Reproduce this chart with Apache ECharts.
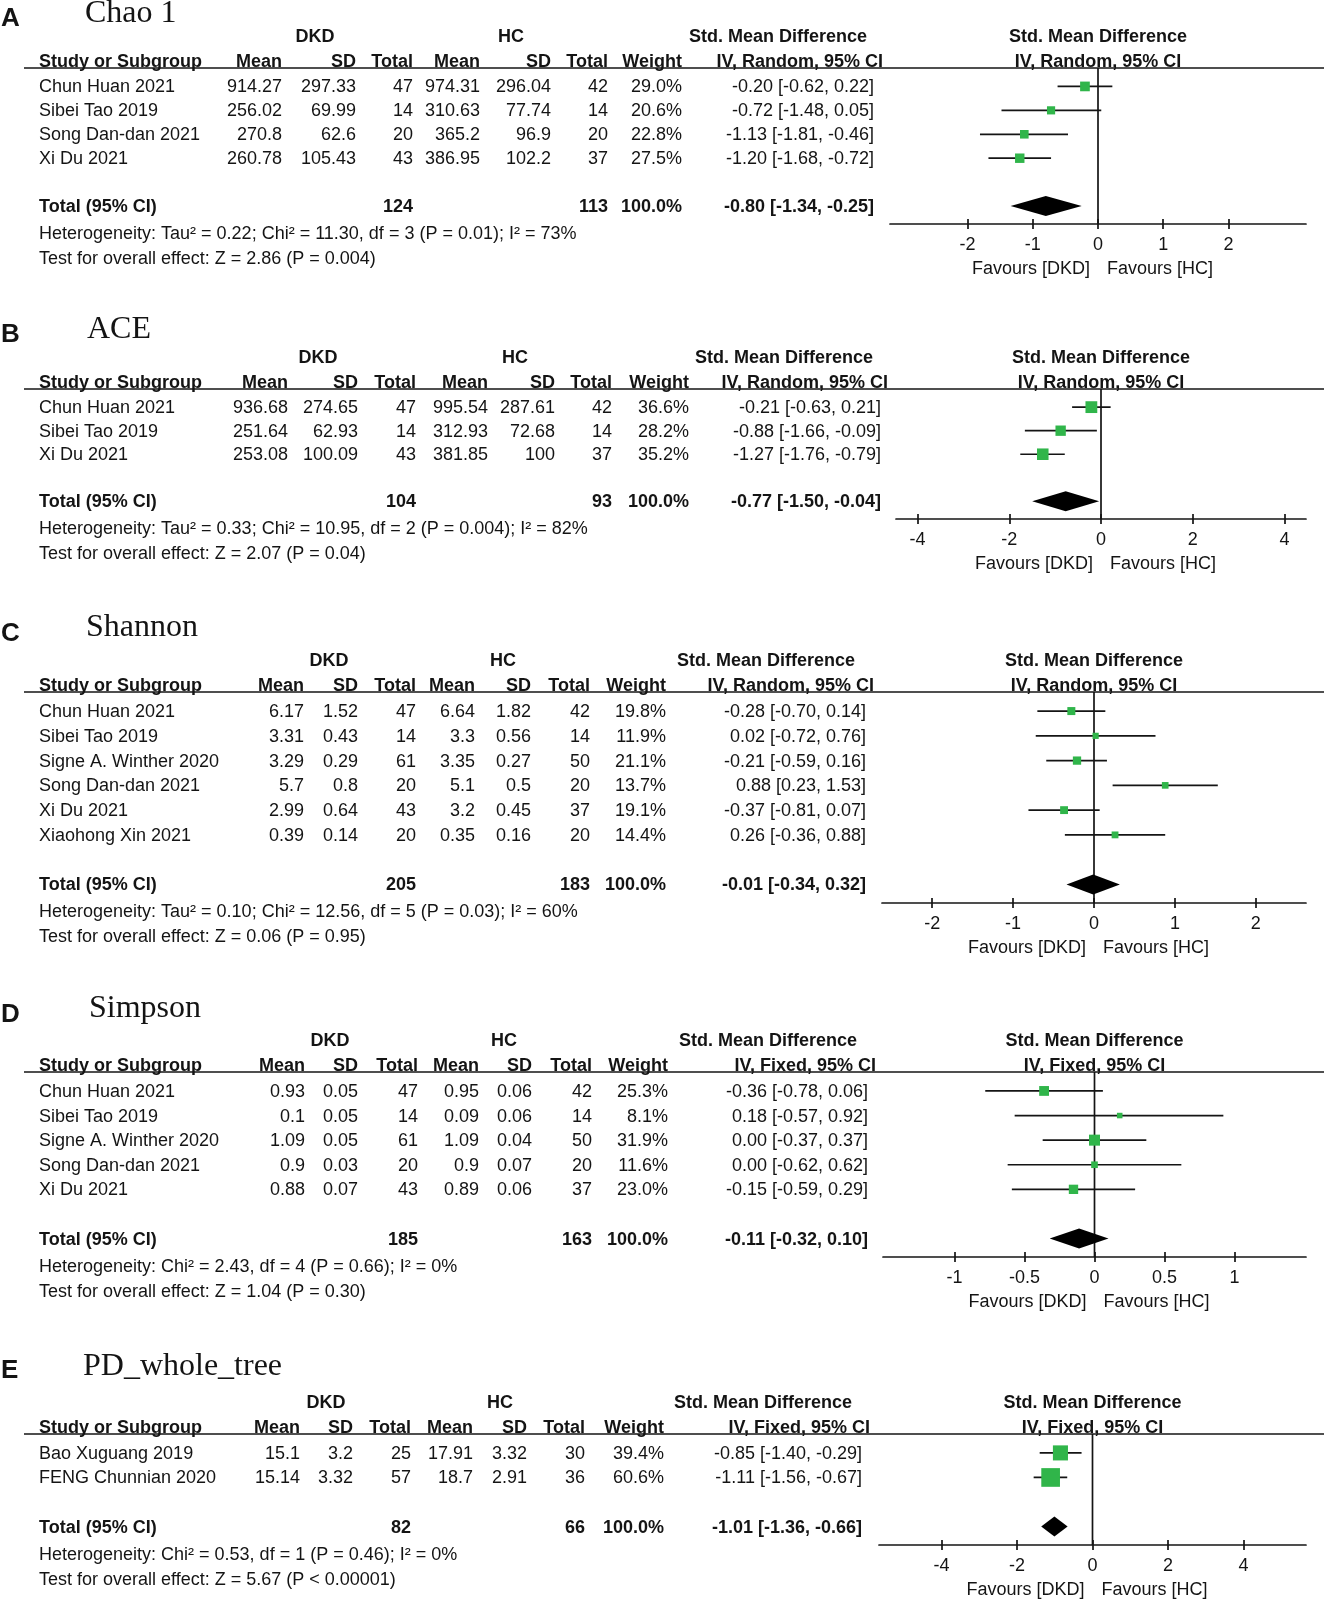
<!DOCTYPE html>
<html>
<head>
<meta charset="utf-8">
<script src="https://cdn.jsdelivr.net/npm/echarts@6/dist/echarts.min.js"></script>
<style>
html,body{margin:0;padding:0;background:#fff;}
#chart{width:1324px;height:1600px;}
</style>
</head>
<body>
<div id="chart"></div>
<script>
// ---------- DATA ----------
// Panel A – Chao 1
const chaoStudy = ['Chun Huan 2021','Sibei Tao 2019','Song Dan-dan 2021','Xi Du 2021'];
const chaoDkdMean = [914.27, 256.02, 270.8, 260.78];
const chaoDkdSd = [297.33, 69.99, 62.6, 105.43];
const chaoDkdN = [47, 14, 20, 43];
const chaoHcMean = [974.31, 310.63, 365.2, 386.95];
const chaoHcSd = [296.04, 77.74, 96.9, 102.2];
const chaoHcN = [42, 14, 20, 37];
const chaoWeight = [29.0, 20.6, 22.8, 27.5];
const chaoSmd = [-0.20, -0.72, -1.13, -1.20];
const chaoLo = [-0.62, -1.48, -1.81, -1.68];
const chaoHi = [0.22, 0.05, -0.46, -0.72];
const chaoTotal = [124, 113, 100.0, -0.80, -1.34, -0.25];
const chaoMethod = 'IV, Random, 95% CI';
const chaoHet = 'Heterogeneity: Tau² = 0.22; Chi² = 11.30, df = 3 (P = 0.01); I² = 73%';
const chaoTest = 'Test for overall effect: Z = 2.86 (P = 0.004)';
const chaoTicks = [-2, -1, 0, 1, 2];

// Panel B – ACE
const aceStudy = ['Chun Huan 2021','Sibei Tao 2019','Xi Du 2021'];
const aceDkdMean = [936.68, 251.64, 253.08];
const aceDkdSd = [274.65, 62.93, 100.09];
const aceDkdN = [47, 14, 43];
const aceHcMean = [995.54, 312.93, 381.85];
const aceHcSd = [287.61, 72.68, 100];
const aceHcN = [42, 14, 37];
const aceWeight = [36.6, 28.2, 35.2];
const aceSmd = [-0.21, -0.88, -1.27];
const aceLo = [-0.63, -1.66, -1.76];
const aceHi = [0.21, -0.09, -0.79];
const aceTotal = [104, 93, 100.0, -0.77, -1.50, -0.04];
const aceMethod = 'IV, Random, 95% CI';
const aceHet = 'Heterogeneity: Tau² = 0.33; Chi² = 10.95, df = 2 (P = 0.004); I² = 82%';
const aceTest = 'Test for overall effect: Z = 2.07 (P = 0.04)';
const aceTicks = [-4, -2, 0, 2, 4];

// Panel C – Shannon
const shanStudy = ['Chun Huan 2021','Sibei Tao 2019','Signe A. Winther 2020','Song Dan-dan 2021','Xi Du 2021','Xiaohong Xin 2021'];
const shanDkdMean = [6.17, 3.31, 3.29, 5.7, 2.99, 0.39];
const shanDkdSd = [1.52, 0.43, 0.29, 0.8, 0.64, 0.14];
const shanDkdN = [47, 14, 61, 20, 43, 20];
const shanHcMean = [6.64, 3.3, 3.35, 5.1, 3.2, 0.35];
const shanHcSd = [1.82, 0.56, 0.27, 0.5, 0.45, 0.16];
const shanHcN = [42, 14, 50, 20, 37, 20];
const shanWeight = [19.8, 11.9, 21.1, 13.7, 19.1, 14.4];
const shanSmd = [-0.28, 0.02, -0.21, 0.88, -0.37, 0.26];
const shanLo = [-0.70, -0.72, -0.59, 0.23, -0.81, -0.36];
const shanHi = [0.14, 0.76, 0.16, 1.53, 0.07, 0.88];
const shanTotal = [205, 183, 100.0, -0.01, -0.34, 0.32];
const shanMethod = 'IV, Random, 95% CI';
const shanHet = 'Heterogeneity: Tau² = 0.10; Chi² = 12.56, df = 5 (P = 0.03); I² = 60%';
const shanTest = 'Test for overall effect: Z = 0.06 (P = 0.95)';
const shanTicks = [-2, -1, 0, 1, 2];

// Panel D – Simpson
const simpStudy = ['Chun Huan 2021','Sibei Tao 2019','Signe A. Winther 2020','Song Dan-dan 2021','Xi Du 2021'];
const simpDkdMean = [0.93, 0.1, 1.09, 0.9, 0.88];
const simpDkdSd = [0.05, 0.05, 0.05, 0.03, 0.07];
const simpDkdN = [47, 14, 61, 20, 43];
const simpHcMean = [0.95, 0.09, 1.09, 0.9, 0.89];
const simpHcSd = [0.06, 0.06, 0.04, 0.07, 0.06];
const simpHcN = [42, 14, 50, 20, 37];
const simpWeight = [25.3, 8.1, 31.9, 11.6, 23.0];
const simpSmd = [-0.36, 0.18, 0.00, 0.00, -0.15];
const simpLo = [-0.78, -0.57, -0.37, -0.62, -0.59];
const simpHi = [0.06, 0.92, 0.37, 0.62, 0.29];
const simpTotal = [185, 163, 100.0, -0.11, -0.32, 0.10];
const simpMethod = 'IV, Fixed, 95% CI';
const simpHet = 'Heterogeneity: Chi² = 2.43, df = 4 (P = 0.66); I² = 0%';
const simpTest = 'Test for overall effect: Z = 1.04 (P = 0.30)';
const simpTicks = [-1, -0.5, 0, 0.5, 1];

// Panel E – PD_whole_tree
const pdStudy = ['Bao Xuguang 2019','FENG Chunnian 2020'];
const pdDkdMean = [15.1, 15.14];
const pdDkdSd = [3.2, 3.32];
const pdDkdN = [25, 57];
const pdHcMean = [17.91, 18.7];
const pdHcSd = [3.32, 2.91];
const pdHcN = [30, 36];
const pdWeight = [39.4, 60.6];
const pdSmd = [-0.85, -1.11];
const pdLo = [-1.40, -1.56];
const pdHi = [-0.29, -0.67];
const pdTotal = [82, 66, 100.0, -1.01, -1.36, -0.66];
const pdMethod = 'IV, Fixed, 95% CI';
const pdHet = 'Heterogeneity: Chi² = 0.53, df = 1 (P = 0.46); I² = 0%';
const pdTest = 'Test for overall effect: Z = 5.67 (P < 0.00001)';
const pdTicks = [-4, -2, 0, 2, 4];

const panelLetters = ['A','B','C','D','E'];
const panelTitles = ['Chao 1','ACE','Shannon','Simpson','PD_whole_tree'];

// ---------- assemble ----------
const panels = [
  {study:chaoStudy, dm:chaoDkdMean, ds:chaoDkdSd, dn:chaoDkdN, hm:chaoHcMean, hs:chaoHcSd, hn:chaoHcN, w:chaoWeight, smd:chaoSmd, lo:chaoLo, hi:chaoHi, tot:chaoTotal, method:chaoMethod, het:chaoHet, test:chaoTest, ticks:chaoTicks},
  {study:aceStudy, dm:aceDkdMean, ds:aceDkdSd, dn:aceDkdN, hm:aceHcMean, hs:aceHcSd, hn:aceHcN, w:aceWeight, smd:aceSmd, lo:aceLo, hi:aceHi, tot:aceTotal, method:aceMethod, het:aceHet, test:aceTest, ticks:aceTicks},
  {study:shanStudy, dm:shanDkdMean, ds:shanDkdSd, dn:shanDkdN, hm:shanHcMean, hs:shanHcSd, hn:shanHcN, w:shanWeight, smd:shanSmd, lo:shanLo, hi:shanHi, tot:shanTotal, method:shanMethod, het:shanHet, test:shanTest, ticks:shanTicks},
  {study:simpStudy, dm:simpDkdMean, ds:simpDkdSd, dn:simpDkdN, hm:simpHcMean, hs:simpHcSd, hn:simpHcN, w:simpWeight, smd:simpSmd, lo:simpLo, hi:simpHi, tot:simpTotal, method:simpMethod, het:simpHet, test:simpTest, ticks:simpTicks},
  {study:pdStudy, dm:pdDkdMean, ds:pdDkdSd, dn:pdDkdN, hm:pdHcMean, hs:pdHcSd, hn:pdHcN, w:pdWeight, smd:pdSmd, lo:pdLo, hi:pdHi, tot:pdTotal, method:pdMethod, het:pdHet, test:pdTest, ticks:pdTicks}
];

// ---------- LAYOUT (pixels, styles) ----------
const layout = [
  {letterY:18,  titleX:85, titleY:13,  lineY:68,   axisY:224,  gridLeft:890, xr:3.19, cols:[282,356,413,480,551,608,682], ciX:874, ciHeadX:883, dkdX:315, hcX:511, smdX:778, boxK:1.8},
  {letterY:334, titleX:87, titleY:329, lineY:389,  axisY:519,  gridLeft:896, xr:4.47, cols:[288,358,416,488,555,612,689], ciX:881, ciHeadX:888, dkdX:318, hcX:515, smdX:784, boxK:1.95},
  {letterY:633, titleX:86, titleY:627, lineY:692,  axisY:903,  gridLeft:882, xr:2.62, cols:[304,358,416,475,531,590,666], ciX:866, ciHeadX:874, dkdX:329, hcX:503, smdX:766, boxK:1.8},
  {letterY:1014,titleX:89, titleY:1008,lineY:1072, axisY:1257, gridLeft:883, xr:1.51, cols:[305,358,418,479,532,592,668], ciX:868, ciHeadX:876, dkdX:330, hcX:504, smdX:768, boxK:1.95},
  {letterY:1370,titleX:83, titleY:1366,lineY:1434, axisY:1545, gridLeft:879, xr:5.66, cols:[300,353,411,473,527,585,664], ciX:862, ciHeadX:870, dkdX:326, hcX:500, smdX:763, boxK:2.4}
];
const GRID_RIGHT = 1306;
const Y_TOP = -0.77, Y_BOT_PAD = 1.75;
const SANS = '"Liberation Sans", Arial, Helvetica, sans-serif';
const SERIF = '"Liberation Serif", "Times New Roman", serif';
const INK = '#141414';
const GREEN = '#30b54a';
const FS = 18;
const LW = 1.7;
const TICK = 5;
const TY = 1; // small text baseline nudge

const chart = echarts.init(document.getElementById('chart'), null, {renderer:'canvas'});

const grids = [], xAxes = [], yAxes = [], series = [];
panels.forEach((D, p) => {
  const L = layout[p];
  const n = D.study.length;
  const gh = L.axisY - L.lineY;
  grids.push({left:L.gridLeft, width:GRID_RIGHT - L.gridLeft, top:L.lineY, height:gh, containLabel:false});
  // main bottom axis: line, downward ticks, labels
  xAxes.push({
    gridIndex:p, type:'value', min:-L.xr, max:L.xr, position:'bottom',
    axisLine:{show:true, onZero:false, lineStyle:{color:INK, width:LW}},
    axisTick:{show:true, customValues:D.ticks, length:TICK, lineStyle:{color:INK, width:LW}},
    axisLabel:{show:true, customValues:D.ticks, fontSize:FS, fontFamily:SANS, color:INK, margin:12},
    splitLine:{show:false}
  });
  // helper axis (top side shifted down onto the bottom line) giving the upward half of each tick
  xAxes.push({
    gridIndex:p, type:'value', min:-L.xr, max:L.xr, position:'top', offset:-gh,
    axisLine:{show:false}, axisLabel:{show:false}, splitLine:{show:false},
    axisTick:{show:true, inside:false, customValues:D.ticks, length:TICK, lineStyle:{color:INK, width:LW}}
  });
  yAxes.push({gridIndex:p, type:'value', min:Y_TOP, max:n + Y_BOT_PAD, inverse:true, show:false});

  // zero line
  series.push({
    type:'line', xAxisIndex:2*p, yAxisIndex:p, z:1, silent:true, showSymbol:false,
    lineStyle:{color:INK, width:LW}, data:[[0, Y_TOP],[0, n + Y_BOT_PAD]]
  });
  // study CIs and boxes
  const k = L.boxK;
  series.push({
    type:'custom', xAxisIndex:2*p, yAxisIndex:p, z:5, silent:true,
    data:D.smd.map((v,i) => [v, i, D.lo[i], D.hi[i], D.w[i]]),
    renderItem:(params, api) => {
      const c = api.coord([api.value(0), api.value(1)]);
      const a = api.coord([api.value(2), api.value(1)]);
      const b = api.coord([api.value(3), api.value(1)]);
      const s = k * Math.sqrt(api.value(4));
      return {type:'group', children:[
        {type:'line', shape:{x1:a[0], y1:c[1], x2:b[0], y2:c[1]}, style:{stroke:INK, lineWidth:LW}},
        {type:'rect', shape:{x:c[0]-s/2, y:c[1]-s/2, width:s, height:s}, style:{fill:GREEN}}
      ]};
    }
  });
  // pooled diamond
  series.push({
    type:'custom', xAxisIndex:2*p, yAxisIndex:p, z:4, silent:true,
    data:[[D.tot[3], n + 1, D.tot[4], D.tot[5]]],
    renderItem:(params, api) => {
      const c = api.coord([api.value(0), api.value(1)]);
      const a = api.coord([api.value(2), api.value(1)]);
      const b = api.coord([api.value(3), api.value(1)]);
      const h = 10;
      return {type:'polygon', shape:{points:[[a[0],c[1]],[c[0],c[1]-h],[b[0],c[1]],[c[0],c[1]+h]]}, style:{fill:'#000'}};
    }
  });
});

chart.setOption({
  animation:false,
  backgroundColor:'#fff',
  grid:grids, xAxis:xAxes, yAxis:yAxes, series:series
});

// ---------- text table via graphic ----------
const f2 = v => v.toFixed(2);
const ci = (m, l, h) => `${f2(m)} [${f2(l)}, ${f2(h)}]`;
function txt(x, y, text, opt) {
  opt = opt || {};
  return {type:'text', x:x, y:y + TY, silent:true, style:{
    text:text, fill:INK, fontSize:opt.size || FS, fontFamily:opt.family || SANS,
    fontWeight:opt.bold ? 'bold' : 'normal', align:opt.align || 'left', verticalAlign:'middle'
  }};
}
const G = [];
panels.forEach((D, p) => {
  const L = layout[p];
  const n = D.study.length;
  const rowY = i => chart.convertToPixel({yAxisIndex:p}, i);
  const zeroX = chart.convertToPixel({xAxisIndex:2*p}, 0);
  const plotC = (L.gridLeft + GRID_RIGHT) / 2;
  const c = L.cols;
  G.push(txt(1, L.letterY, panelLetters[p], {bold:true, size:26}));
  G.push(txt(L.titleX, L.titleY, panelTitles[p], {size:32, family:SERIF}));
  const gy = L.lineY - 32, hy = L.lineY - 7;
  G.push(txt(L.dkdX, gy, 'DKD', {bold:true, align:'center'}));
  G.push(txt(L.hcX, gy, 'HC', {bold:true, align:'center'}));
  G.push(txt(L.smdX, gy, 'Std. Mean Difference', {bold:true, align:'center'}));
  G.push(txt(plotC, gy, 'Std. Mean Difference', {bold:true, align:'center'}));
  G.push(txt(39, hy, 'Study or Subgroup', {bold:true}));
  ['Mean','SD','Total','Mean','SD','Total','Weight'].forEach((h, j) => G.push(txt(c[j], hy, h, {bold:true, align:'right'})));
  G.push(txt(L.ciHeadX, hy, D.method, {bold:true, align:'right'}));
  G.push(txt(plotC, hy, D.method, {bold:true, align:'center'}));
  G.push({type:'line', silent:true, shape:{x1:24, y1:L.lineY, x2:1324, y2:L.lineY}, style:{stroke:INK, lineWidth:LW}});
  D.study.forEach((s, i) => {
    const y = rowY(i);
    G.push(txt(39, y, s));
    const vals = [D.dm[i], D.ds[i], D.dn[i], D.hm[i], D.hs[i], D.hn[i]];
    vals.forEach((v, j) => G.push(txt(c[j], y, String(v), {align:'right'})));
    G.push(txt(c[6], y, D.w[i].toFixed(1) + '%', {align:'right'}));
    G.push(txt(L.ciX, y, ci(D.smd[i], D.lo[i], D.hi[i]), {align:'right'}));
  });
  const ty = rowY(n + 1);
  G.push(txt(39, ty, 'Total (95% CI)', {bold:true}));
  G.push(txt(c[2], ty, String(D.tot[0]), {bold:true, align:'right'}));
  G.push(txt(c[5], ty, String(D.tot[1]), {bold:true, align:'right'}));
  G.push(txt(c[6], ty, D.tot[2].toFixed(1) + '%', {bold:true, align:'right'}));
  G.push(txt(L.ciX, ty, ci(D.tot[3], D.tot[4], D.tot[5]), {bold:true, align:'right'}));
  G.push(txt(39, ty + 27, D.het));
  G.push(txt(39, ty + 52, D.test));
  G.push(txt(zeroX - 8, L.axisY + 44, 'Favours [DKD]', {align:'right'}));
  G.push(txt(zeroX + 9, L.axisY + 44, 'Favours [HC]', {align:'left'}));
});
chart.setOption({graphic:{elements:G}});
</script>
</body>
</html>
